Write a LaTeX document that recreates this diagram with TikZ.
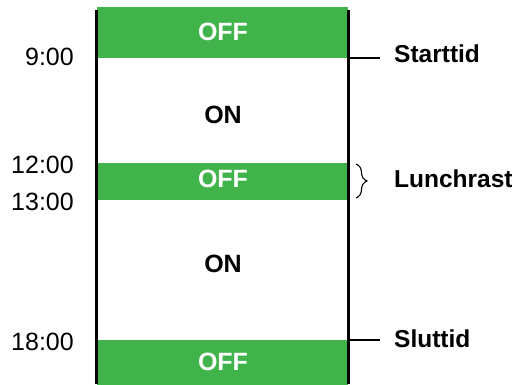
\documentclass[tikz,border=0pt]{standalone}
\usepackage{fontspec}
\setmainfont{Liberation Sans}
\usetikzlibrary{decorations.pathreplacing}
\definecolor{offgreen}{RGB}{64,180,75}
\begin{document}
\begin{tikzpicture}[x=1pt,y=-1pt,
  band/.style={fill=offgreen, draw=none, inner sep=0pt, minimum width=251pt, anchor=north west},
  offtxt/.style={anchor=base, text=white, font=\fontsize{25}{29}\selectfont\bfseries, inner sep=0pt},
  ontxt/.style={anchor=base, font=\fontsize{25}{29}\selectfont\bfseries, inner sep=0pt},
  timetxt/.style={anchor=base east, font=\fontsize{25}{29}\selectfont, inner sep=0pt},
  marktxt/.style={anchor=base west, font=\fontsize{24.5}{29}\selectfont\bfseries, inner sep=0pt},
  axis/.style={line width=2.7pt},
  tickline/.style={line width=1.3pt},
  lunchbrace/.style={decorate, decoration={brace, amplitude=11pt}, line width=1.1pt}]
\useasboundingbox (0,0) rectangle (512,385);
% OFF bands
\node[band, minimum height=51pt] (b1) at (97,7) {};
\node[band, minimum height=37pt] (b2) at (97,163) {};
\node[band, minimum height=45pt] (b3) at (97,340) {};
% axes
\coordinate (lt) at (96.5,10);
\coordinate (lb) at (96.5,384);
\coordinate (rt) at (348.5,10);
\coordinate (rb) at (348.5,384);
\draw[axis] (lt) -- (lb);
\draw[axis] (rt) -- (rb);
% band texts
\node[offtxt] (off1) at (223,40.7) {OFF};
\node[offtxt] (off2) at (223,188) {OFF};
\node[offtxt] (off3) at (223,370) {OFF};
\node[ontxt] (on1) at (223,123.3) {ON};
\node[ontxt] (on2) at (223,272.5) {ON};
% times
\node[timetxt] (t9) at (74,66) {9:00};
\node[timetxt] (t12) at (74,174) {12:00};
\node[timetxt] (t13) at (74,211) {13:00};
\node[timetxt] (t18) at (74,350) {18:00};
% right markers
\node[marktxt] (start) at (394,63) {Starttid};
\node[marktxt] (lunch) at (394,188) {Lunchrast};
\node[marktxt] (slut) at (394,347) {Sluttid};
\coordinate (s1) at (350,58);
\coordinate (s2) at (380,58);
\coordinate (e1) at (350,340);
\coordinate (e2) at (380,340);
\draw[tickline] (s1) -- (s2);
\draw[tickline] (e1) -- (e2);
\coordinate (br1) at (356,164);
\coordinate (br2) at (356,198);
\draw[lunchbrace] (br1) -- (br2);
\end{tikzpicture}
\end{document}
